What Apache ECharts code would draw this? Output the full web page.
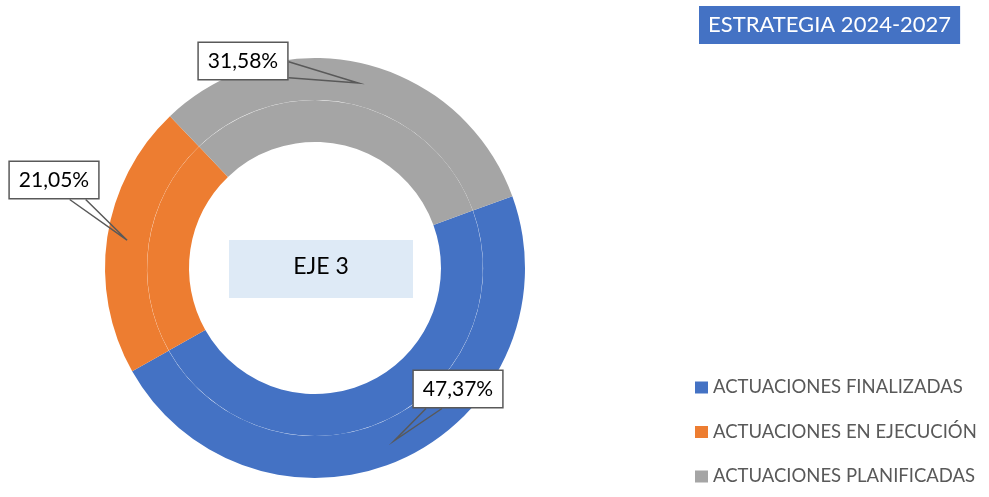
<!DOCTYPE html>
<html>
<head>
<meta charset="utf-8">
<script src="https://cdn.jsdelivr.net/npm/echarts@6/dist/echarts.min.js"></script>
<style>html,body{margin:0;padding:0;background:#fff;}#chart{width:989px;height:497px;}</style>
</head>
<body>
<div id="chart"></div>
<script>
// ---- data ----
const categories = ['ACTUACIONES FINALIZADAS', 'ACTUACIONES EN EJECUCIÓN', 'ACTUACIONES PLANIFICADAS'];
const values = [9, 4, 6];
const colors = ['#4472C4', '#ED7D31', '#A5A5A5'];
const titleText = 'ESTRATEGIA 2024-2027';
const centerText = 'EJE 3';

// ---- layout (label callout positions, centers) ----
const labelCenters = [[458, 389], [54, 180], [243, 61]];
const pieCenter = [315, 268];

const chart = echarts.init(document.getElementById('chart'), null, {renderer: 'canvas'});

function dataItems() {
  return categories.map((n, i) => ({name: n, value: values[i], itemStyle: {color: colors[i]}}));
}
function pct(p) { return p.percent.toFixed(2).replace('.', ',') + '%'; }

function calloutLayout(p) {
  const c = labelCenters[p.dataIndex];
  const hw = p.labelRect.width / 2, hh = p.labelRect.height / 2;
  const res = {x: c[0], y: c[1], align: 'center', verticalAlign: 'middle'};
  if (p.labelLinePoints && p.labelLinePoints.length) {
    const a = p.labelLinePoints[0];
    const dx = a[0] - c[0], dy = a[1] - c[1];
    const tx = Math.abs(dx) > 1e-6 ? hw / Math.abs(dx) : Infinity;
    const ty = Math.abs(dy) > 1e-6 ? hh / Math.abs(dy) : Infinity;
    const half = 8;
    let b1, b2;
    if (tx < ty) {
      const ex = c[0] + tx * dx, ey = c[1] + tx * dy;
      const y1 = Math.max(c[1] - hh + 1, ey - half), y2 = Math.min(c[1] + hh - 1, ey + half);
      b1 = [ex, y1]; b2 = [ex, y2];
    } else {
      const ex = c[0] + ty * dx, ey = c[1] + ty * dy;
      const x1 = Math.max(c[0] - hw + 1, ex - half), x2 = Math.min(c[0] + hw - 1, ex + half);
      b1 = [x1, ey]; b2 = [x2, ey];
    }
    res.labelLinePoints = [b1, a, b2];
  }
  return res;
}

const option = {
  animation: false,
  backgroundColor: '#ffffff',
  title: {
    text: titleText,
    left: 699, top: 6,
    padding: [8, 9, 8, 9],
    backgroundColor: '#4472C4',
    textStyle: {color: '#ffffff', fontFamily: 'Lato', fontSize: 22, fontWeight: 'normal', lineHeight: 22}
  },
  legend: {
    orient: 'vertical',
    left: 695, top: 378,
    padding: 0,
    itemWidth: 13, itemHeight: 12,
    itemGap: 25.5,
    icon: 'rect',
    data: categories,
    selectedMode: false,
    textStyle: {color: '#595959', fontFamily: 'Lato', fontSize: 18.5}
  },
  graphic: [
    {type: 'rect', shape: {x: 229, y: 240, width: 184, height: 58}, style: {fill: '#DEEAF6'}, z: 10},
    {type: 'text', x: 321, y: 267, style: {text: centerText, fill: '#000000', font: '23px Lato', align: 'center', verticalAlign: 'middle'}, z: 11}
  ],
  series: [
    {
      type: 'pie', name: 'outer', center: pieCenter, radius: [168.1, 210],
      startAngle: 20, clockwise: true, avoidLabelOverlap: false,
      label: {show: false}, labelLine: {show: false},
      emphasis: {disabled: true}, silent: true,
      itemStyle: {borderWidth: 0},
      data: dataItems()
    },
    {
      type: 'pie', name: 'inner', center: pieCenter, radius: [126, 167.9],
      startAngle: 20, clockwise: true, avoidLabelOverlap: false,
      label: {show: false}, labelLine: {show: false},
      emphasis: {disabled: true}, silent: true,
      itemStyle: {borderWidth: 0},
      data: dataItems()
    },
    {
      type: 'pie', name: 'labels', center: pieCenter, radius: [0, 190],
      startAngle: 20, clockwise: true, avoidLabelOverlap: false,
      emphasis: {disabled: true}, silent: true, z: 20,
      itemStyle: {color: 'rgba(0,0,0,0)', borderWidth: 0},
      label: {
        show: true, position: 'outside', formatter: pct,
        color: '#000000', fontFamily: 'Lato', fontSize: 21, lineHeight: 21,
        backgroundColor: '#ffffff', borderColor: '#595959', borderWidth: 1.5,
        padding: [8, 9, 7, 9]
      },
      labelLine: {show: true, length: 10, length2: 10, lineStyle: {color: '#595959', width: 1.5}},
      labelLayout: calloutLayout,
      data: categories.map((n, i) => ({name: n, value: values[i], itemStyle: {color: 'rgba(0,0,0,0)'}}))
    }
  ]
};
chart.setOption(option);
</script>
</body>
</html>
